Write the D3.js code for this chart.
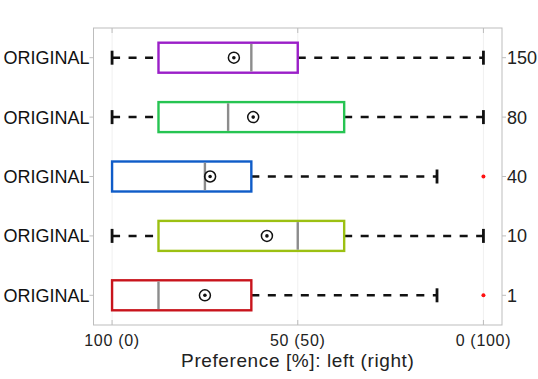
<!DOCTYPE html>
<html>
<head>
<meta charset="utf-8">
<script src="https://cdn.jsdelivr.net/npm/d3@7"></script>
<style>
  body { margin: 0; background: #fff; }
  text { font-family: "Liberation Sans", Arial, sans-serif; }
</style>
</head>
<body>
<div class="canvas"></div>
<script>
// rows from top to bottom, values are the "right" preference in %
let rowLabels = ['ORIGINAL', 'ORIGINAL', 'ORIGINAL', 'ORIGINAL', 'ORIGINAL'];
let rightLabels = ['150', '80', '40', '10', '1'];
let whiskerLo = [0, 0, 0, 0, 0];
let q1 = [12.5, 12.5, 0, 12.5, 0];
let medians = [37.5, 31.25, 25, 50, 12.5];
let q3 = [50, 62.5, 37.5, 62.5, 37.5];
let whiskerHi = [100, 100, 87.5, 100, 87.5];
let means = [32.8, 38, 26.4, 41.7, 25];
let outliers = [[], [], [100], [], [100]];
let xTicks = [0, 50, 100];

let boxColors = ['#9b1fc8', '#26c452', '#0f5cc8', '#9cc012', '#c8141c'];

let width = 538, height = 379;
const margin = { top: 28, right: 36, bottom: 54, left: 93.5 };

let svg = d3.select('.canvas').append('svg')
  .attr('width', width)
  .attr('height', height);

let x = d3.scaleLinear()
  .domain([-5, 105])
  .range([margin.left, width - margin.right]);

let y = d3.scaleBand()
  .domain(d3.range(rowLabels.length))
  .range([margin.top, height - margin.bottom])
  .padding(0);

let boxH = 30;
let capH = 14;

// grid
svg.append('g').selectAll('line')
  .data(xTicks)
  .enter().append('line')
  .attr('x1', d => x(d)).attr('x2', d => x(d))
  .attr('y1', margin.top).attr('y2', height - margin.bottom)
  .attr('stroke', '#f0f0f0')
  .attr('stroke-width', 1);

// frame
svg.append('rect')
  .attr('x', margin.left)
  .attr('y', margin.top)
  .attr('width', width - margin.right - margin.left)
  .attr('height', height - margin.bottom - margin.top)
  .attr('fill', 'none')
  .attr('stroke', '#bdbdbd')
  .attr('stroke-width', 1);

// x ticks inside (top and bottom)
xTicks.forEach(d => {
  svg.append('line')
    .attr('x1', x(d)).attr('x2', x(d))
    .attr('y1', margin.top).attr('y2', margin.top + 5)
    .attr('stroke', '#bdbdbd');
  svg.append('line')
    .attr('x1', x(d)).attr('x2', x(d))
    .attr('y1', height - margin.bottom).attr('y2', height - margin.bottom - 5)
    .attr('stroke', '#bdbdbd');
});

// x tick labels
svg.append('g').selectAll('text')
  .data(xTicks)
  .enter().append('text')
  .attr('x', d => x(d))
  .attr('y', 345.5)
  .attr('text-anchor', 'middle')
  .style('font-size', '16px')
  .style('letter-spacing', '0.7px')
  .attr('fill', '#222')
  .text(d => `${100 - d} (${d})`);

svg.append('text')
  .attr('x', (margin.left + width - margin.right) / 2)
  .attr('y', 366.5)
  .attr('text-anchor', 'middle')
  .style('font-size', '19px')
  .style('letter-spacing', '0.6px')
  .attr('fill', '#222')
  .text('Preference [%]: left (right)');

// y ticks and labels
rowLabels.forEach((lab, i) => {
  let cy = y(i) + y.bandwidth() / 2;
  svg.append('line')
    .attr('x1', margin.left - 4).attr('x2', margin.left)
    .attr('y1', cy).attr('y2', cy)
    .attr('stroke', '#bdbdbd');
  svg.append('line')
    .attr('x1', width - margin.right).attr('x2', width - margin.right + 4)
    .attr('y1', cy).attr('y2', cy)
    .attr('stroke', '#bdbdbd');
  svg.append('text')
    .attr('x', margin.left - 4)
    .attr('y', cy)
    .attr('dy', '0.36em')
    .attr('text-anchor', 'end')
    .style('font-size', '18px')
    .attr('fill', '#111')
    .text(lab);
  svg.append('text')
    .attr('x', width - margin.right + 5)
    .attr('y', cy)
    .attr('dy', '0.36em')
    .style('font-size', '18px')
    .attr('fill', '#222')
    .text(rightLabels[i]);
});

// boxes
rowLabels.forEach((lab, i) => {
  let cy = y(i) + y.bandwidth() / 2;
  let g = svg.append('g');

  // whiskers
  if (whiskerLo[i] < q1[i]) {
    g.append('line')
      .attr('x1', x(whiskerLo[i])).attr('x2', x(q1[i]))
      .attr('y1', cy).attr('y2', cy)
      .attr('stroke', '#111').attr('stroke-width', 2.5)
      .attr('stroke-dasharray', '8,8.5');
    g.append('line')
      .attr('x1', x(whiskerLo[i])).attr('x2', x(whiskerLo[i]))
      .attr('y1', cy - capH / 2).attr('y2', cy + capH / 2)
      .attr('stroke', '#111').attr('stroke-width', 2.8);
  }
  if (whiskerHi[i] > q3[i]) {
    g.append('line')
      .attr('x1', x(q3[i])).attr('x2', x(whiskerHi[i]))
      .attr('y1', cy).attr('y2', cy)
      .attr('stroke', '#111').attr('stroke-width', 2.5)
      .attr('stroke-dasharray', '8,8.5');
    g.append('line')
      .attr('x1', x(whiskerHi[i])).attr('x2', x(whiskerHi[i]))
      .attr('y1', cy - capH / 2).attr('y2', cy + capH / 2)
      .attr('stroke', '#111').attr('stroke-width', 2.8);
  }

  // box
  g.append('rect')
    .attr('x', x(q1[i]))
    .attr('y', cy - boxH / 2)
    .attr('width', x(q3[i]) - x(q1[i]))
    .attr('height', boxH)
    .attr('fill', 'none')
    .attr('stroke', boxColors[i])
    .attr('stroke-width', 2.4);

  // median
  g.append('line')
    .attr('x1', x(medians[i])).attr('x2', x(medians[i]))
    .attr('y1', cy - boxH / 2 + 1.2).attr('y2', cy + boxH / 2 - 1.2)
    .attr('stroke', '#8c8c8c').attr('stroke-width', 2.4);

  // mean marker
  g.append('circle')
    .attr('cx', x(means[i])).attr('cy', cy)
    .attr('r', 5.5)
    .attr('fill', 'none')
    .attr('stroke', '#111').attr('stroke-width', 1.5);
  g.append('circle')
    .attr('cx', x(means[i])).attr('cy', cy)
    .attr('r', 1.8)
    .attr('fill', '#111');

  // outliers
  g.selectAll('.outlier')
    .data(outliers[i])
    .enter().append('circle')
    .attr('class', 'outlier')
    .attr('cx', d => x(d)).attr('cy', cy)
    .attr('r', 2)
    .attr('fill', '#ff1010');
});
</script>
</body>
</html>
